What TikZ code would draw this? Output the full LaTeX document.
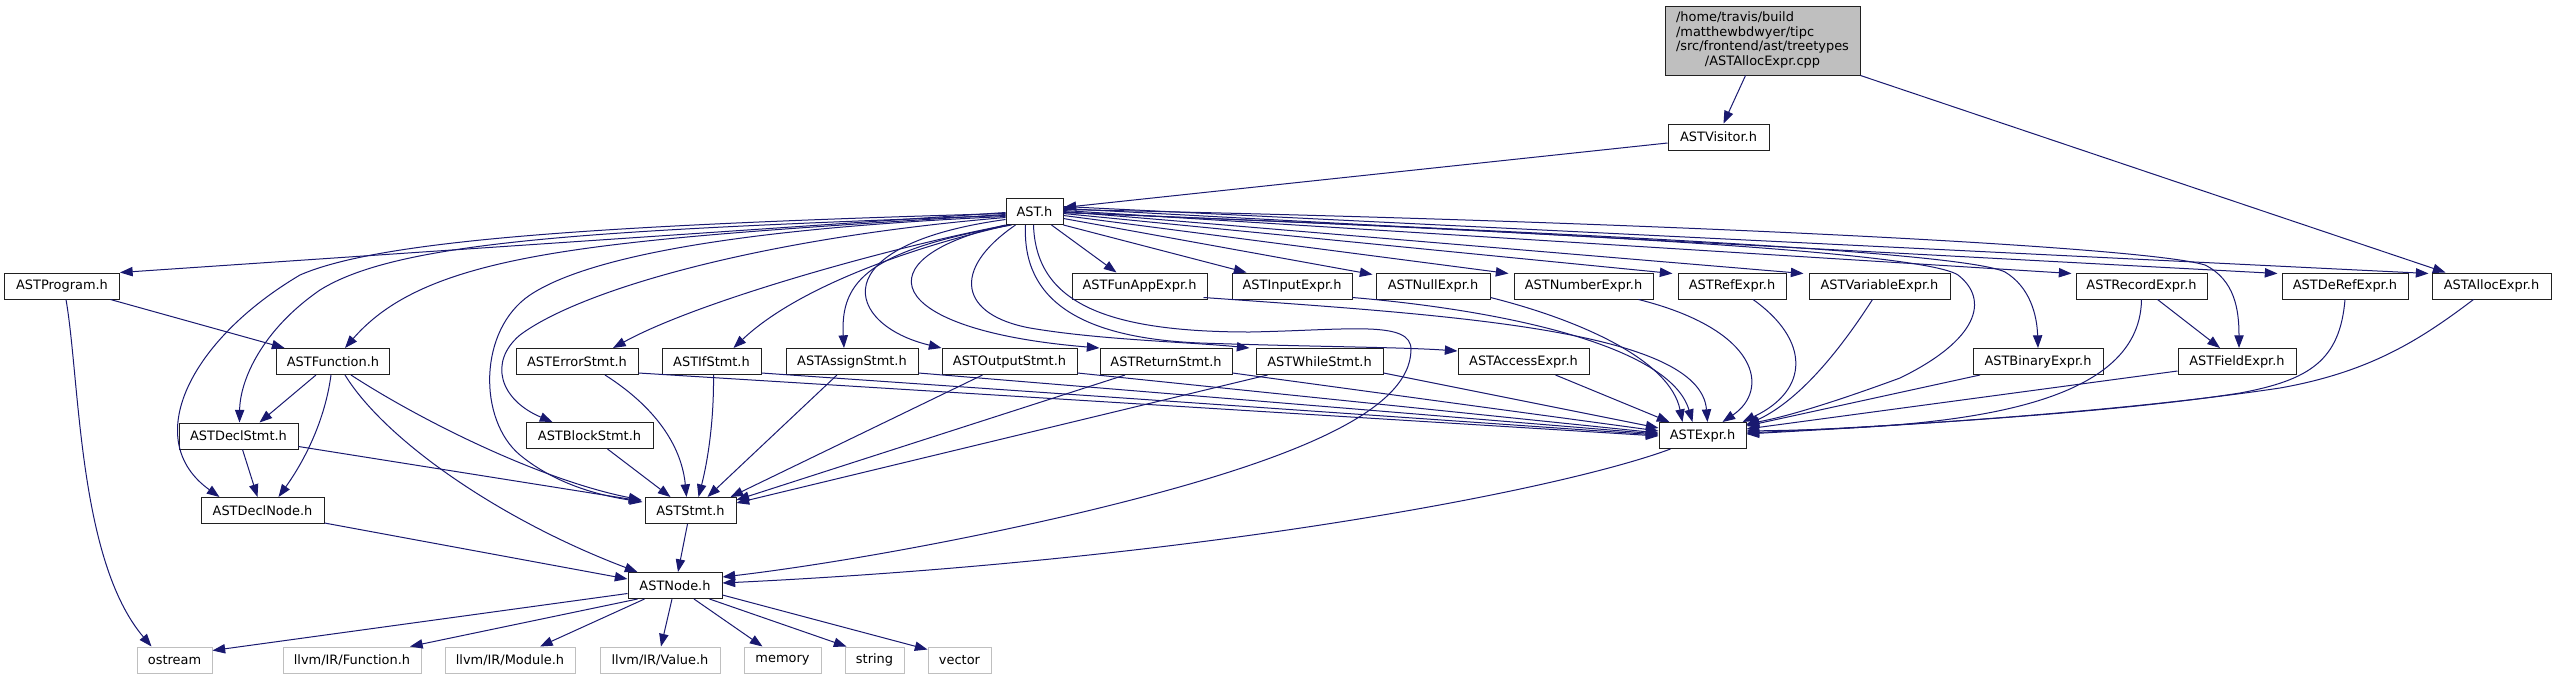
\documentclass[tikz,border=0pt]{standalone}
\usepackage{fontspec}
\setmainfont{DejaVu Sans}
\usetikzlibrary{arrows.meta}
\definecolor{edgec}{HTML}{191970}
\definecolor{cppfill}{HTML}{BFBFBF}
\definecolor{leafc}{HTML}{BFBFBF}
\definecolor{boxc}{HTML}{202020}
\begin{document}
\begin{tikzpicture}[x=0.75pt,y=-0.75pt,
  font=\fontsize{9.7}{11.1}\selectfont,
  nbox/.style={draw=boxc, fill=white, line width=0.75pt, minimum height=19.5pt, inner sep=0pt, minimum width=#1*0.75pt},
  leaf/.style={draw=leafc, fill=white, line width=0.75pt, minimum height=19.5pt, inner sep=0pt, minimum width=#1*0.75pt},
  cppbox/.style={draw=boxc, fill=cppfill, line width=0.75pt, minimum width=146.25pt, minimum height=51.75pt, inner sep=0pt},
  edg/.style={draw=edgec, line width=0.75pt, -{Triangle[length=9.5pt,width=7pt]}, fill=none}]
\fill[white] (0,0) rectangle (2557,679);
\useasboundingbox (0,0) rectangle (2557,679);

% nodes
\node[cppbox] (cpp) at (1762.5,40.5) {\begin{tabular}{@{}l@{}}/home/travis/build\\/matthewbdwyer/tipc\\/src/frontend/ast/treetypes\\\multicolumn{1}{@{}c@{}}{/ASTAllocExpr.cpp}\end{tabular}};
\node[nbox=101] (vis) at (1718.5,137) {ASTVisitor.h};
\node[nbox=57] (ast) at (1034.5,211.5) {AST.h};

\node[nbox=115] (prog) at (62,286) {ASTProgram.h};
\node[nbox=135] (funapp) at (1139.5,286) {ASTFunAppExpr.h};
\node[nbox=120] (input) at (1292,286) {ASTInputExpr.h};
\node[nbox=114] (null) at (1433,286) {ASTNullExpr.h};
\node[nbox=139] (number) at (1583.5,286) {ASTNumberExpr.h};
\node[nbox=108] (ref) at (1732,286) {ASTRefExpr.h};
\node[nbox=141] (variable) at (1879.5,286) {ASTVariableExpr.h};
\node[nbox=131] (record) at (2141.5,286) {ASTRecordExpr.h};
\node[nbox=126] (deref) at (2345,286) {ASTDeRefExpr.h};
\node[nbox=119] (alloc) at (2491.5,286) {ASTAllocExpr.h};

\node[nbox=113] (func) at (333,361.5) {ASTFunction.h};
\node[nbox=122] (err) at (577,361.5) {ASTErrorStmt.h};
\node[nbox=99] (ifs) at (711.5,361.5) {ASTIfStmt.h};
\node[nbox=132] (assign) at (852,361.5) {ASTAssignStmt.h};
\node[nbox=135] (out) at (1009.5,361.5) {ASTOutputStmt.h};
\node[nbox=132] (ret) at (1166,361.5) {ASTReturnStmt.h};
\node[nbox=127] (whl) at (1319.5,361.5) {ASTWhileStmt.h};
\node[nbox=131] (access) at (1523.5,361.5) {ASTAccessExpr.h};
\node[nbox=130] (binary) at (2038,361.5) {ASTBinaryExpr.h};
\node[nbox=118] (field) at (2237,361.5) {ASTFieldExpr.h};

\node[nbox=119] (declstmt) at (238.5,436) {ASTDeclStmt.h};
\node[nbox=127] (block) at (589.5,435.5) {ASTBlockStmt.h};
\node[nbox=87] (expr) at (1702.5,435.5) {ASTExpr.h};

\node[nbox=123] (declnode) at (262.5,510.5) {ASTDeclNode.h};
\node[nbox=91] (stmt) at (690.5,510.5) {ASTStmt.h};

\node[nbox=94] (astnode) at (675,585.5) {ASTNode.h};

\node[leaf=75] (ostream) at (174.5,660) {ostream};
\node[leaf=138] (fn) at (352,660) {llvm/IR/Function.h};
\node[leaf=130] (mod) at (510,660) {llvm/IR/Module.h};
\node[leaf=120] (val) at (660,660) {llvm/IR/Value.h};
\node[leaf=77] (memory) at (782.5,660) {memory};
\node[leaf=59] (string) at (874.5,660) {string};
\node[leaf=63] (vector) at (959.5,660) {vector};

% top edges
\draw[edg] ([shift={(-17,0)}]cpp.south) -- ([shift={(5,0)}]vis.north);
\draw[edg] (cpp.south east) -- ([shift={(14,0)}]alloc.north west);
\draw[edg] ([shift={(0,6)}]vis.west) -- ([shift={(0,-4)}]ast.east);

% AST.h to the left
\draw[edg] ([shift={(0,1)}]ast.west) -- (prog.north east);
\draw[edg] ([shift={(0,3)}]ast.west) .. controls (600,240) and (430,250) .. ([shift={(12,0)}]func.north);
\draw[edg] ([shift={(0,4)}]ast.west) .. controls (600,230) and (400,240) .. (320,290) .. controls (262,330) and (240,380) .. ([shift={(1,0)}]declstmt.north);
\draw[edg] ([shift={(0,2)}]ast.west) .. controls (600,225) and (380,240) .. (300,275) .. controls (190,340) and (140,440) .. ([shift={(19,0)}]declnode.north west);
\draw[edg] ([shift={(0,5)}]ast.west) .. controls (750,228) and (590,255) .. (530,295) .. controls (478,330) and (478,420) .. (520,455) .. controls (560,488) and (610,497) .. ([shift={(-2,5)}]stmt.north west);
\draw[edg] ([shift={(0,6)}]ast.west) .. controls (760,238) and (580,290) .. (520,335) .. controls (488,362) and (500,400) .. ([shift={(27,0)}]block.north west);
\draw[edg] ([shift={(2,0)}]ast.south west) .. controls (900,245) and (700,300) .. ([shift={(36,0)}]err.north);
\draw[edg] ([shift={(4,0)}]ast.south west) .. controls (920,245) and (800,285) .. ([shift={(22,0)}]ifs.north);
\draw[edg] ([shift={(6,0)}]ast.south west) .. controls (870,250) and (840,280) .. ([shift={(-8,0)}]assign.north);
\draw[edg] ([shift={(0,8)}]ast.west) .. controls (820,245) and (845,325) .. (out.north west);
\draw[edg] (ast.south west) .. controls (860,258) and (880,330) .. (ret.north west);
\draw[edg] ([shift={(10,0)}]ast.south west) .. controls (950,270) and (960,315) .. (1030,328) .. controls (1100,340) and (1190,342) .. ([shift={(-6,0)}]whl.north west);
\draw[edg] ([shift={(-9,0)}]ast.south) .. controls (1022,300) and (1080,338) .. (1200,343) .. controls (1320,347) and (1400,347) .. ([shift={(0,3)}]access.north west);
\draw[edg] ([shift={(-1,0)}]ast.south) .. controls (1036,300) and (1100,332) .. (1250,332) .. controls (1350,330) and (1412,320) .. (1411,350) .. controls (1410,410) and (1300,460) .. (1083,512) .. controls (930,548) and (800,568) .. ([shift={(0,5)}]astnode.north east);

% AST.h to the right
\draw[edg] ([shift={(-12,0)}]ast.south east) -- ([shift={(45,0)}]funapp.north west);
\draw[edg] (ast.south east) -- ([shift={(15,0)}]input.north west);
\draw[edg] ([shift={(0,7)}]ast.east) -- ([shift={(-3,2)}]null.north west);
\draw[edg] ([shift={(0,4)}]ast.east) -- ([shift={(-5,1)}]number.north west);
\draw[edg] ([shift={(0,2)}]ast.east) -- ([shift={(-5,1)}]ref.north west);
\draw[edg] (ast.east) -- ([shift={(-5,1)}]variable.north west);
\draw[edg] ([shift={(0,-1)}]ast.east) -- ([shift={(-4,1)}]record.north west);
\draw[edg] ([shift={(0,-3)}]ast.east) -- ([shift={(-4,1)}]deref.north west);
\draw[edg] ([shift={(0,-5)}]ast.east) -- ([shift={(-3,1)}]alloc.north west);
\draw[edg] ([shift={(0,1)}]ast.east) .. controls (1500,230) and (1960,250) .. (2005,272) .. controls (2030,287) and (2037,315) .. (binary.north);
\draw[edg] ([shift={(0,-2)}]ast.east) .. controls (1600,220) and (2140,245) .. (2205,265) .. controls (2235,280) and (2239,310) .. ([shift={(2,0)}]field.north);
\draw[edg] ([shift={(0,1)}]ast.east) .. controls (1500,230) and (1920,250) .. (1958,275) .. controls (1990,300) and (1978,340) .. (1900,378) .. controls (1840,400) and (1790,416) .. ([shift={(0,2)}]expr.north east);

% into ASTExpr.h
\draw[edg] ([shift={(0,-2)}]err.south east) -- ([shift={(0,14)}]expr.north west);
\draw[edg] ([shift={(0,-2)}]ifs.south east) -- ([shift={(0,13)}]expr.north west);
\draw[edg] ([shift={(0,-2)}]assign.south east) -- ([shift={(0,12)}]expr.north west);
\draw[edg] ([shift={(0,-2)}]out.south east) -- ([shift={(0,11)}]expr.north west);
\draw[edg] ([shift={(0,-2)}]ret.south east) -- ([shift={(0,9)}]expr.north west);
\draw[edg] ([shift={(0,-2)}]whl.south east) -- ([shift={(0,6)}]expr.north west);
\draw[edg] ([shift={(32,0)}]access.south) -- ([shift={(11,0)}]expr.north west);
\draw[edg] ([shift={(-4,-2)}]funapp.south east) .. controls (1450,315) and (1700,330) .. ([shift={(5,0)}]expr.north);
\draw[edg] ([shift={(0,-2)}]input.south east) .. controls (1500,310) and (1670,345) .. ([shift={(-10,0)}]expr.north);
\draw[edg] ([shift={(0,-2)}]null.south east) .. controls (1580,320) and (1670,360) .. ([shift={(-20,0)}]expr.north);
\draw[edg] ([shift={(-15,0)}]number.south east) .. controls (1760,330) and (1770,390) .. ([shift={(20,0)}]expr.north);
\draw[edg] ([shift={(21,0)}]ref.south) .. controls (1810,340) and (1810,390) .. ([shift={(-4,0)}]expr.north east);
\draw[edg] ([shift={(-7,0)}]variable.south) .. controls (1840,350) and (1800,400) .. ([shift={(0,3)}]expr.north east);
\draw[edg] ([shift={(-58,0)}]binary.south) -- ([shift={(0,4)}]expr.north east);
\draw[edg] (record.south) .. controls (2140,410) and (1950,428) .. ([shift={(0,9)}]expr.north east);
\draw[edg] ([shift={(0,-4)}]field.south west) -- ([shift={(0,7)}]expr.north east);
\draw[edg] (deref.south) .. controls (2340,360) and (2310,380) .. (2240,393) .. controls (2100,415) and (1850,428) .. ([shift={(0,11)}]expr.north east);
\draw[edg] ([shift={(-18,0)}]alloc.south) .. controls (2420,340) and (2370,372) .. (2280,388) .. controls (2100,415) and (1850,428) .. ([shift={(0,12)}]expr.north east);
\draw[edg] ([shift={(16,0)}]record.south) -- ([shift={(-17,0)}]field.north);

% left part
\draw[edg] (prog) -- (func);
\draw[edg] ([shift={(4,0)}]prog.south) .. controls (80,380) and (78,560) .. ([shift={(-23,0)}]ostream.north);
\draw[edg] ([shift={(-17,0)}]func.south) -- ([shift={(21,0)}]declstmt.north);
\draw[edg] ([shift={(-2,0)}]func.south) .. controls (325,420) and (305,460) .. ([shift={(16,0)}]declnode.north);
\draw[edg] ([shift={(18,0)}]func.south) .. controls (420,420) and (540,480) .. ([shift={(-3,3)}]stmt.north west);
\draw[edg] ([shift={(12,0)}]func.south) .. controls (385,440) and (500,520) .. ([shift={(10,0)}]astnode.north west);
\draw[edg] ([shift={(4,0)}]declstmt.south) -- ([shift={(-5,0)}]declnode.north);
\draw[edg] ([shift={(0,-3)}]declstmt.south east) -- ([shift={(-3,4)}]stmt.north west);
\draw[edg] ([shift={(0,-1)}]declnode.south east) -- ([shift={(0,7)}]astnode.north west);
\draw[edg] ([shift={(-3,0)}]stmt.south) -- ([shift={(3,0)}]astnode.north);
\draw[edg] ([shift={(18,0)}]block.south) -- ([shift={(-20,0)}]stmt.north);
\draw[edg] ([shift={(28,0)}]err.south) .. controls (660,410) and (682,450) .. ([shift={(-4,0)}]stmt.north);
\draw[edg] ([shift={(2,0)}]ifs.south) .. controls (714,420) and (708,460) .. ([shift={(8,0)}]stmt.north);
\draw[edg] ([shift={(-15,0)}]assign.south) -- ([shift={(17,0)}]stmt.north);
\draw[edg] ([shift={(-27,0)}]out.south) -- ([shift={(-6,0)}]stmt.north east);
\draw[edg] ([shift={(-41,0)}]ret.south) -- ([shift={(0,3)}]stmt.north east);
\draw[edg] ([shift={(-52,0)}]whl.south) -- ([shift={(0,6)}]stmt.north east);
\draw[edg] ([shift={(-32,0)}]expr.south) .. controls (1560,490) and (1200,560) .. ([shift={(0,11)}]astnode.north east);

% ASTNode.h to system headers
\draw[edg] ([shift={(0,8)}]astnode.west) -- ([shift={(0,4)}]ostream.north east);
\draw[edg] ([shift={(10,0)}]astnode.south west) -- ([shift={(58,0)}]fn.north);
\draw[edg] ([shift={(17,0)}]astnode.south west) -- ([shift={(30,0)}]mod.north);
\draw[edg] ([shift={(-3,0)}]astnode.south) -- ([shift={(1,0)}]val.north);
\draw[edg] ([shift={(19,0)}]astnode.south) -- ([shift={(-20,0)}]memory.north);
\draw[edg] ([shift={(-13,0)}]astnode.south east) -- ([shift={(2,0)}]string.north west);
\draw[edg] ([shift={(0,-4)}]astnode.south east) -- ([shift={(0,3)}]vector.north west);
\end{tikzpicture}
\end{document}
